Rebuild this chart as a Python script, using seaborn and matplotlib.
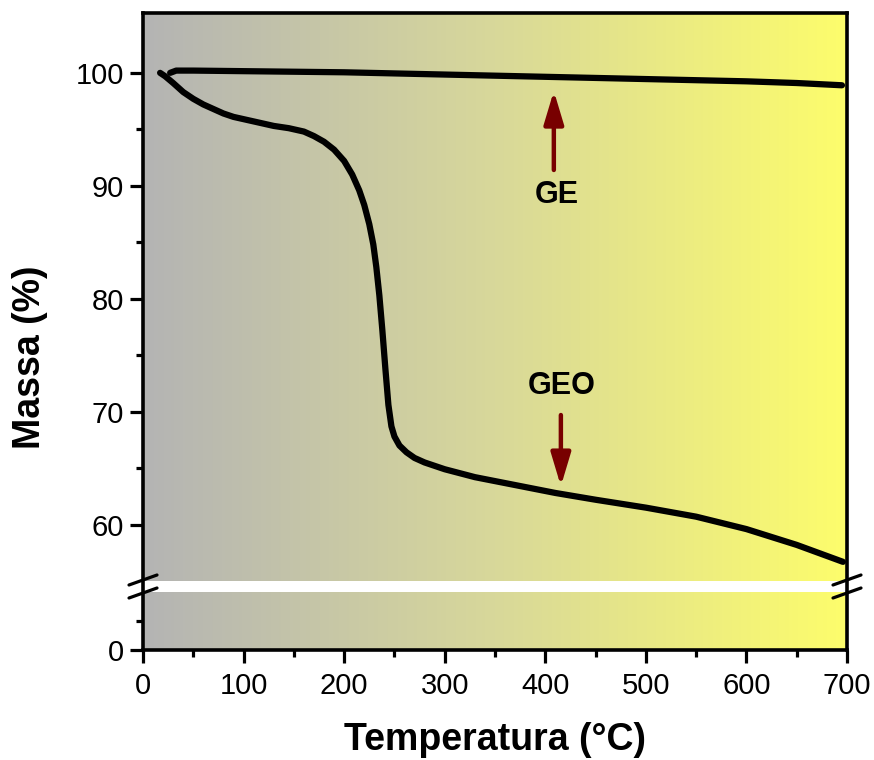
import numpy as np
import pandas as pd
import matplotlib
matplotlib.use("Agg")
import matplotlib.pyplot as plt
from matplotlib.colors import LinearSegmentedColormap
from matplotlib.ticker import FixedLocator
import seaborn as sns

# TGA curves: temperature (°C) and remaining mass (%)
ge_temp = [27, 33, 50, 100, 150, 200, 250, 300, 350, 400, 450, 500, 550, 600, 650, 695]
ge_mass = [100.0, 100.2, 100.2, 100.15, 100.1, 100.05, 99.95, 99.85, 99.75, 99.65,
           99.55, 99.45, 99.35, 99.25, 99.1, 98.9]

geo_temp = [17, 22, 30, 40, 50, 60, 70, 80, 90, 100, 115, 130, 145, 160, 170, 180,
            190, 200, 208, 215, 220, 225, 229, 232, 235, 238, 241, 244, 247, 250,
            255, 262, 270, 280, 300, 330, 370, 410, 450, 500, 550, 600, 650, 696]
geo_mass = [100.0, 99.7, 99.1, 98.3, 97.7, 97.2, 96.8, 96.4, 96.1, 95.9, 95.6, 95.3,
            95.1, 94.8, 94.4, 93.9, 93.2, 92.2, 91.0, 89.6, 88.3, 86.6, 84.8, 82.8,
            80.3, 77.2, 73.8, 70.6, 68.7, 67.8, 67.0, 66.4, 65.9, 65.5, 64.9, 64.2,
            63.5, 62.8, 62.2, 61.5, 60.7, 59.6, 58.2, 56.7]

x_ticks = [0, 100, 200, 300, 400, 500, 600, 700]
x_minor = [50, 150, 250, 350, 450, 550, 650]
y_ticks = [0, 60, 70, 80, 90, 100]
y_minor = [5, 65, 75, 85, 95]

df = pd.concat([
    pd.DataFrame({"Temperatura": ge_temp, "Massa": ge_mass, "amostra": "GE"}),
    pd.DataFrame({"Temperatura": geo_temp, "Massa": geo_mass, "amostra": "GEO"}),
])

sns.set_style("ticks")
plt.rcParams["font.family"] = ["Liberation Sans", "DejaVu Sans"]
plt.rcParams["text.color"] = "black"
plt.rcParams["axes.labelcolor"] = "black"

fig = plt.figure(figsize=(8.74, 7.6), dpi=100)
ax = fig.add_axes([143 / 874, 1 - 650 / 760, 704 / 874, 637 / 760])

# Broken y axis: 0-10 compressed at the bottom, 55-105 on top
LOW_K, GAP_K, HIGH_K = 5.8, 11.0 / 45.0, 11.3


def fwd(y):
    y = np.asarray(y, dtype=float)
    return np.where(y <= 10, y * LOW_K,
                    np.where(y >= 55, 10 * LOW_K + 45 * GAP_K + (y - 55) * HIGH_K,
                             10 * LOW_K + (y - 10) * GAP_K))


def inv(v):
    v = np.asarray(v, dtype=float)
    a = 10 * LOW_K
    b = a + 45 * GAP_K
    return np.where(v <= a, v / LOW_K,
                    np.where(v >= b, 55 + (v - b) / HIGH_K, 10 + (v - a) / GAP_K))


ax.set_yscale("function", functions=(fwd, inv))

# Horizontal grey-to-yellow background
cmap = LinearSegmentedColormap.from_list("bg", ["#b4b4b4", "#d8d89a", "#fdfd6c"])
ax.imshow(np.linspace(0, 1, 256).reshape(1, -1), cmap=cmap, aspect="auto",
          extent=[0, 1, 0, 1], transform=ax.transAxes, zorder=0, interpolation="bicubic")

ax.axhspan(10, 55, color="white", zorder=1, lw=0)

for name in ["GE", "GEO"]:
    sns.lineplot(data=df[df["amostra"] == name], x="Temperatura", y="Massa",
                 estimator=None, sort=False, color="black", lw=4.5, ax=ax, zorder=3,
                 solid_capstyle="round", solid_joinstyle="round")

ax.set_xlim(0, 700)
ax.set_ylim(0, 105.3)

ax.xaxis.set_major_locator(FixedLocator(x_ticks))
ax.xaxis.set_minor_locator(FixedLocator(x_minor))
ax.yaxis.set_major_locator(FixedLocator(y_ticks))
ax.yaxis.set_minor_locator(FixedLocator(y_minor))
ax.set_xticklabels([str(t) for t in x_ticks])
ax.set_yticklabels([str(t) for t in y_ticks])

ax.tick_params(which="major", direction="out", length=9.5, width=2.3, labelsize=21,
               colors="black", pad=4)
ax.tick_params(axis="x", which="major", pad=6)
ax.tick_params(which="minor", direction="out", length=5, width=2.3, colors="black")
for s in ax.spines.values():
    s.set_linewidth(2.6)
    s.set_color("black")
    s.set_visible(True)
    s.set_zorder(5)

ax.set_xlabel("Temperatura (°C)", fontsize=27, fontweight="bold", color="black")
ax.set_ylabel("Massa (%)", fontsize=27, fontweight="bold", color="black")
ax.xaxis.set_label_coords(0.5, -0.113)
ax.yaxis.set_label_coords(-0.135, 0.46)

# Axis-break marks on both spines
c = 63.5 / 637
dx, dy, off = 14 / 704, 5 / 637, 6.5 / 637
for xs in (0, 1):
    for o in (off, -off):
        ax.plot([xs - dx, xs + dx], [c + o - dy, c + o + dy], color="black", lw=2.3,
                transform=ax.transAxes, clip_on=False, zorder=6)

# Labels with arrows
arrow_color = "#780000"
aprops = dict(arrowstyle="-|>,head_length=1.0,head_width=0.3", color=arrow_color,
              lw=3.2, shrinkA=0, shrinkB=0, mutation_scale=20)
ax.annotate("", xy=(408.5, 98.4), xytext=(408.5, 91.4), arrowprops=aprops, zorder=4)
ax.annotate("", xy=(415.5, 63.4), xytext=(415.5, 69.7), arrowprops=aprops, zorder=4)
ax.text(411, 89.2, "GE", fontsize=22, fontweight="bold", ha="center", va="center",
        color="black", zorder=4)
ax.text(416, 72.3, "GEO", fontsize=22, fontweight="bold", ha="center", va="center",
        color="black", zorder=4)

fig.savefig("out.png", dpi=100)
